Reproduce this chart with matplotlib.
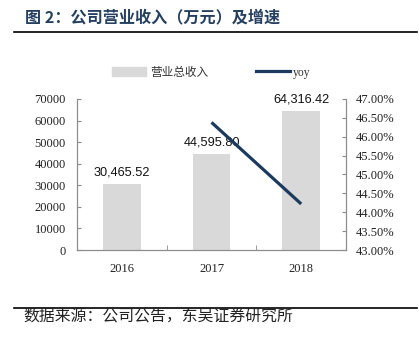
import numpy as np
import matplotlib.pyplot as plt
from matplotlib.patches import Patch
from matplotlib.lines import Line2D
from matplotlib.ticker import FuncFormatter

years = ['2016', '2017', '2018']
revenue = [30465.52, 44595.80, 64316.42]
yoy_years = ['2017', '2018']
yoy = [0.4638, 0.4422]

cjk = ['Noto Sans CJK SC', 'DejaVu Sans']
serif = 'Liberation Serif'
navy = '#1B3A5E'
bar_color = '#D9D9D9'
axis_gray = '#8C8C8C'

fig = plt.figure(figsize=(4.19, 3.48), dpi=100)
ax = fig.add_axes([0.1838, 0.2816, 0.642, 0.434])
ax2 = ax.twinx()

x = np.arange(len(years))
ax.bar(x, revenue, width=0.42, color=bar_color, zorder=1)
for xi, v in zip(x, revenue):
    ax.annotate(f'{v:,.2f}', (xi, v), xytext=(0, 4), textcoords='offset points',
                ha='center', va='bottom', fontsize=9.2, family='Liberation Sans', color='#111111')

xl = [years.index(y) for y in yoy_years]
ax2.plot(xl, yoy, color=navy, lw=2.3, solid_capstyle='butt', zorder=3)

ax.set_xlim(-0.5, 2.5)
ax.set_ylim(0, 70000)
ax.set_yticks(np.arange(0, 70001, 10000))
ax2.set_ylim(0.43, 0.47)
ax2.set_yticks(np.arange(0.43, 0.4701, 0.005))
ax2.yaxis.set_major_formatter(FuncFormatter(lambda v, p: f'{v * 100:.2f}%'))

ax.set_xticks(x)
ax.set_xticklabels(years)
ax.set_xticks([0.5, 1.5], minor=True)
ax.tick_params(axis='x', which='major', length=0, pad=9)
ax.tick_params(axis='x', which='minor', length=3.5, direction='in', color=axis_gray)
ax.tick_params(axis='y', length=3, direction='in', color=axis_gray, pad=8)
ax2.tick_params(axis='y', length=3, direction='in', color=axis_gray, pad=7)

for a in (ax, ax2):
    a.spines['top'].set_visible(False)
    for s in ('left', 'right', 'bottom'):
        a.spines[s].set_color(axis_gray)
        a.spines[s].set_linewidth(0.8)
    for lab in a.get_xticklabels() + a.get_yticklabels():
        lab.set_family(serif)
        lab.set_fontsize(9)
        lab.set_color('#222222')
ax.set_zorder(ax2.get_zorder() - 1)
ax2.patch.set_visible(False)

handles = [Patch(color=bar_color), Line2D([0], [0], color=navy, lw=2.3)]
leg = fig.legend(handles, ['营业总收入', 'yoy'], loc='center', bbox_to_anchor=(0.505, 0.793),
                 ncol=2, frameon=False, handlelength=2.9, handleheight=0.7, handletextpad=0.3,
                 columnspacing=4.1, prop={'family': cjk, 'size': 8.4})
leg.get_texts()[1].set_family(serif)
for t in leg.get_texts():
    t.set_color('#333333')

fig.text(0.0597, 0.951, '图 2：公司营业收入（万元）及增速', fontsize=11.6, fontweight='bold',
         color='#243F60', family=cjk, va='center', ha='left')
fig.add_artist(Line2D([0.033, 0.995], [0.908, 0.908], color='black', lw=1.2))
fig.add_artist(Line2D([0.033, 0.995], [0.115, 0.115], color='black', lw=1.2))
fig.text(0.055, 0.089, '数据来源：公司公告，东吴证券研究所', fontsize=11.4, color='#222222',
         family=cjk, va='center', ha='left')

fig.savefig('out.png', dpi=100)
